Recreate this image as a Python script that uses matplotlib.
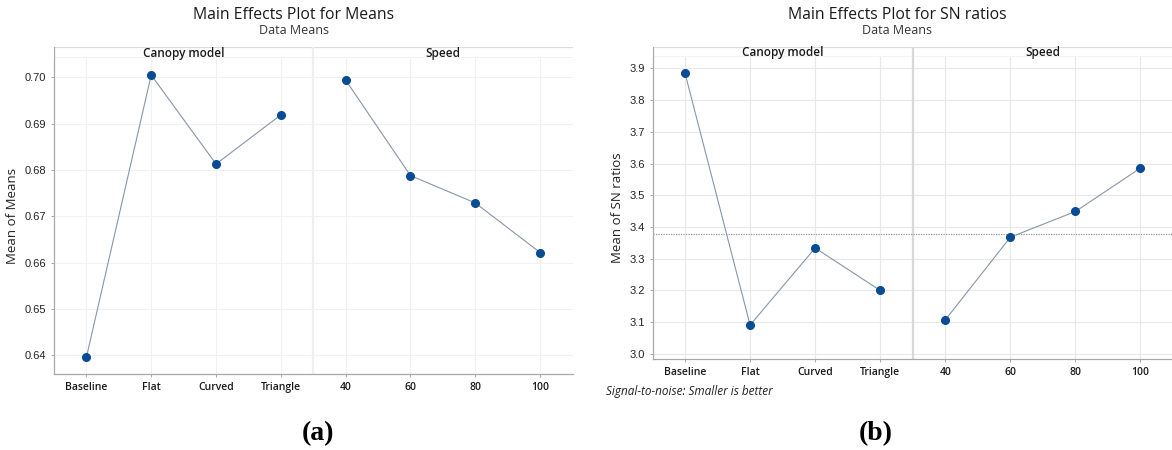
import matplotlib
matplotlib.use("Agg")
import matplotlib.pyplot as plt
import numpy as np

# ---------------- data ----------------
canopy_levels = ["Baseline", "Flat", "Curved", "Triangle"]
speed_levels = ["40", "60", "80", "100"]
factor_names = ["Canopy model", "Speed"]

means_canopy = [0.6396, 0.7005, 0.6813, 0.6919]
means_speed = [0.6994, 0.6788, 0.6729, 0.6622]

sn_canopy = [3.885, 3.091, 3.334, 3.200]
sn_speed = [3.107, 3.368, 3.449, 3.586]

means_yticks = [0.64, 0.65, 0.66, 0.67, 0.68, 0.69, 0.70]
sn_yticks = [3.0, 3.1, 3.2, 3.3, 3.4, 3.5, 3.6, 3.7, 3.8, 3.9]

W, H = 1172, 450
fig = plt.figure(figsize=(W / 100, H / 100), dpi=100)

UI = ["Open Sans", "DejaVu Sans"]
NUM = ["Liberation Sans", "DejaVu Sans"]
PT_COLOR = "#0a4b96"
LINE_COLOR = "#8796a8"


def px_axes(x0, y0, x1, y1):
    """axes from pixel box (top-left origin)"""
    return fig.add_axes([x0 / W, 1 - y1 / H, (x1 - x0) / W, (y1 - y0) / H])


def draw_panel(box, strip_top, ylim, yticks, yfmt, vals1, vals2, grid_c, div_c,
               ylabel, ref=None):
    x0, y0, x1, y1 = box
    ax = px_axes(x0, y0, x1, y1)
    labels = canopy_levels + speed_levels
    n1 = len(canopy_levels)
    xs = np.arange(len(labels))
    ax.set_xlim(-0.5, len(labels) - 0.5)
    ax.set_ylim(*ylim)
    for y in yticks:
        ax.axhline(y, color=grid_c, lw=0.8, zorder=0)
    for x in xs:
        ax.axvline(x, color=grid_c, lw=0.8, zorder=0)
    ax.axvline(n1 - 0.5, color=div_c, lw=1.6, zorder=1)
    if ref is not None:
        ax.axhline(ref, color="#9a9a9a", lw=0.9, ls=(0, (1, 1)), zorder=1)
    ax.plot(xs[:n1], vals1, color=LINE_COLOR, lw=0.8, zorder=2)
    ax.plot(xs[n1:], vals2, color=LINE_COLOR, lw=0.8, zorder=2)
    ax.plot(xs[:n1], vals1, "o", color=PT_COLOR, ms=5.5, zorder=3)
    ax.plot(xs[n1:], vals2, "o", color=PT_COLOR, ms=5.5, zorder=3)
    ax.set_xticks(xs)
    ax.set_xticklabels(labels, fontfamily=UI, fontsize=7.5, fontweight="semibold",
                       color="#1a1a1a")
    ax.set_yticks(yticks)
    ax.set_yticklabels([yfmt.format(v) for v in yticks], fontfamily=NUM,
                       fontsize=8, color="#222222")
    ax.tick_params(axis="both", length=2.5, width=0.6, color="#9a9a9a", pad=3)
    for s in ["top", "right"]:
        ax.spines[s].set_visible(False)
    for s in ["left", "bottom"]:
        ax.spines[s].set_color("#a8a8a8")
        ax.spines[s].set_linewidth(0.9)
    ax.set_ylabel(ylabel, fontfamily=UI, fontsize=9.5, color="#222222")

    # strip
    sa = px_axes(x0, strip_top, x1, y0)
    sa.set_xlim(-0.5, len(labels) - 0.5)
    sa.set_ylim(0, 1)
    sa.set_xticks([])
    sa.set_yticks([])
    for s in sa.spines.values():
        s.set_visible(False)
    sa.axhline(0, color="#c4c4c4", lw=1.0)
    sa.axhline(1, color="#dcdcdc", lw=0.9)
    sa.axvline(-0.5, color="#a8a8a8", lw=0.9)
    sa.axvline(n1 - 0.5, color=div_c, lw=1.6)
    sa.text((n1 - 1) / 2, 0.45, factor_names[0], ha="center", va="center",
            fontfamily=UI, fontsize=8.5, fontweight="semibold", color="#1a1a1a")
    sa.text(n1 + (len(labels) - n1 - 1) / 2, 0.45, factor_names[1], ha="center",
            va="center", fontfamily=UI, fontsize=8.5, fontweight="semibold",
            color="#1a1a1a")
    return ax


# ---- panel (a)
draw_panel((54, 58, 572.5, 374), 47, (0.6360, 0.70417), means_yticks, "{:.2f}",
           means_canopy, means_speed, "#f1f1f1", "#efefef", "Mean of Means")

# ---- panel (b)
sn_all = sn_canopy + sn_speed
draw_panel((652.5, 57.3, 1173, 359), 46.7, (2.984, 3.935), sn_yticks, "{:.1f}",
           sn_canopy, sn_speed, "#e8e8e8", "#d8d8d8", "Mean of SN ratios",
           ref=float(np.mean(sn_all)))

# titles
def ftext(x, y, s, **kw):
    fig.text(x / W, 1 - y / H, s, **kw)

ftext(294, 15, "Main Effects Plot for Means", ha="center", va="center",
      fontfamily=UI, fontsize=11.3, color="#1a1a1a")
ftext(294, 30, "Data Means", ha="center", va="center", fontfamily=UI,
      fontsize=9, color="#333333")
ftext(897, 15, "Main Effects Plot for SN ratios", ha="center", va="center",
      fontfamily=UI, fontsize=11.3, color="#1a1a1a")
ftext(897, 30, "Data Means", ha="center", va="center", fontfamily=UI,
      fontsize=9, color="#333333")
ftext(606, 391, "Signal-to-noise: Smaller is better", ha="left", va="center",
      fontfamily=UI, fontsize=8.5, style="italic", color="#222222")
ftext(318, 434, "(a)", ha="center", va="center", fontfamily="Liberation Serif",
      fontsize=20, fontweight="bold", color="black")
ftext(876, 434, "(b)", ha="center", va="center", fontfamily="Liberation Serif",
      fontsize=20, fontweight="bold", color="black")

fig.savefig("out.png", dpi=100)
